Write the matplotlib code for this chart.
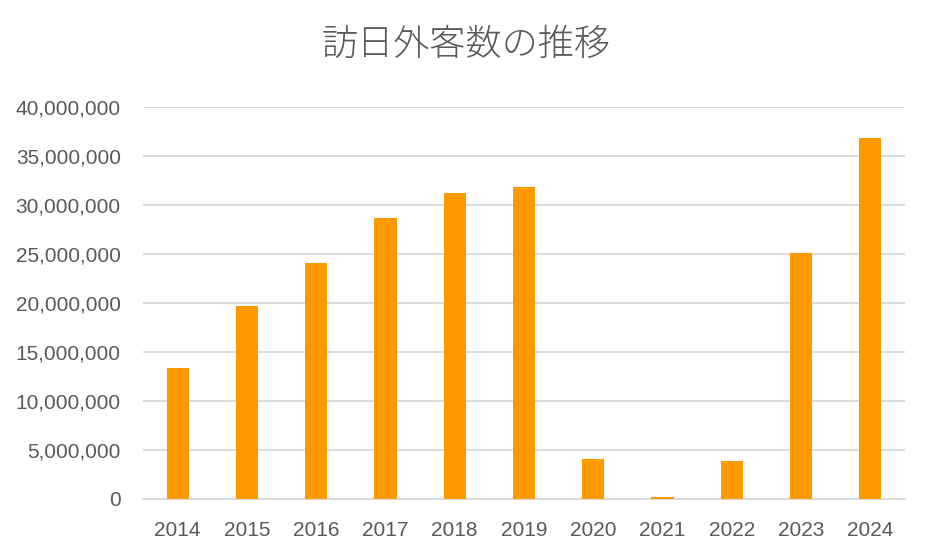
import matplotlib
matplotlib.use("Agg")
import matplotlib.pyplot as plt
from matplotlib.ticker import FuncFormatter, MultipleLocator

years = ["2014", "2015", "2016", "2017", "2018", "2019", "2020", "2021", "2022", "2023", "2024"]
visitors = [13413467, 19737409, 24039700, 28691073, 31191856, 31882049,
            4115828, 245862, 3832110, 25066350, 36869900]
title = "訪日外客数の推移"

plt.rcParams['font.family'] = ['Liberation Sans', 'Noto Sans CJK JP', 'DejaVu Sans']

fig = plt.figure(figsize=(9.31, 5.54), dpi=100)
ax = fig.add_axes([0.1536, 0.0993, 0.8184, 0.7076])
x = range(len(years))
ax.bar(x, visitors, width=0.32, color="#FF9900", zorder=3)
ax.set_xlim(-0.5, len(years) - 0.5)
ax.set_ylim(0, 40000000)
ax.yaxis.set_major_locator(MultipleLocator(5000000))
ax.yaxis.set_major_formatter(FuncFormatter(lambda v, p: f"{int(v):,}"))
ax.set_xticks(list(x))
ax.set_xticklabels(years)
ax.grid(axis="y", color="#D9D9D9", linewidth=1.3, zorder=0)
for s in ["top", "right", "left"]:
    ax.spines[s].set_visible(False)
ax.spines["bottom"].set_color("#D9D9D9")
ax.spines["bottom"].set_linewidth(1.3)
ax.tick_params(axis="both", length=0, labelsize=15, colors="#595959")
ax.tick_params(axis="y", pad=16)
ax.tick_params(axis="x", pad=16)
fig.text(0.5, 0.919, title, ha="center", va="center", fontsize=26,
         color="#595959", family=['Noto Sans CJK JP', 'DejaVu Sans'], fontweight="light")
fig.savefig("out.png", dpi=100)
